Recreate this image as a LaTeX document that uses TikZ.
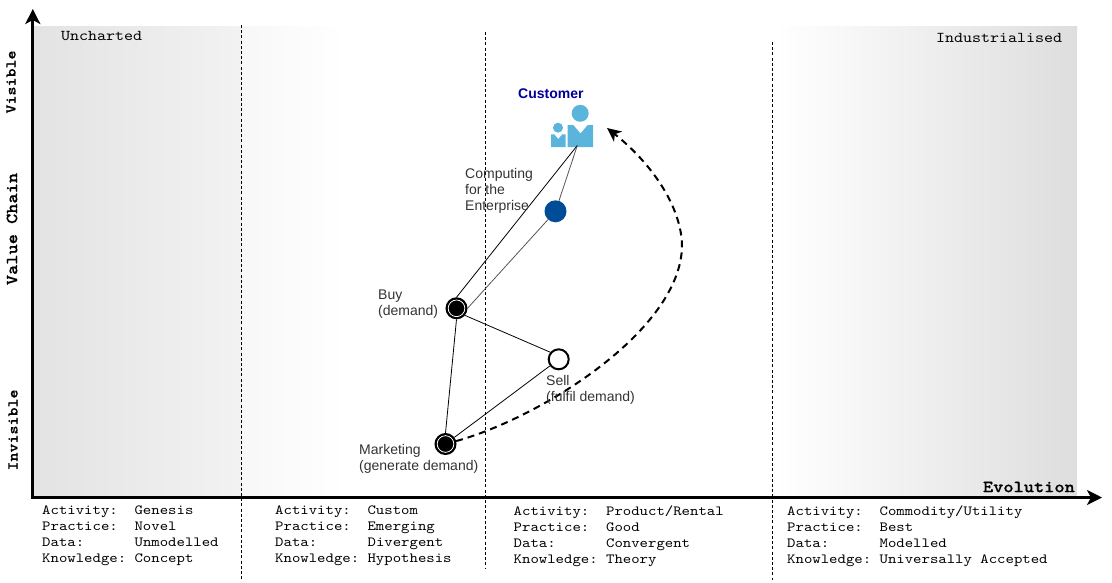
\documentclass[tikz,border=0pt]{standalone}
\usepackage{fontspec}
\setmainfont{Liberation Sans}
\newfontfamily\courreg{lmmono10-regular}[Extension=.otf,FakeStretch=1.143]
\newfontfamily\courbold{lmmonolt10-bold}[Extension=.otf,FakeStretch=1.143,FakeBold=0.5]
\usetikzlibrary{arrows.meta}
\definecolor{iconblue}{HTML}{5AB4DC}
\definecolor{nodeblue}{HTML}{004C97}
\definecolor{custblue}{HTML}{000099}
\definecolor{edgegrey}{HTML}{555555}
\definecolor{labelgrey}{HTML}{333333}
\tikzset{
  axisline/.style={line width=3pt,-{Stealth[length=15pt,width=15pt,inset=4pt]}},
  phase/.style={line width=0.7pt,dash pattern=on 3pt off 2.2pt,black},
  link/.style={line width=0.8pt,black},
  greylink/.style={line width=0.8pt,edgegrey},
  lab/.style={inner sep=0pt,anchor=west,align=left,text=labelgrey,font=\fontsize{14}{16}\selectfont},
  info/.style={inner sep=0pt,anchor=north west,align=left,font=\courreg\fontsize{14}{16}\selectfont},
  zone/.style={inner sep=0pt,font=\courreg\fontsize{15}{16}\selectfont},
  axlab/.style={inner sep=0pt,font=\courbold\fontsize{17}{18}\selectfont},
  sidelab/.style={inner sep=0pt,rotate=90,font=\courbold\fontsize{15}{16}\selectfont},
  dual/.style={circle,draw=black,line width=2pt,fill=black,minimum size=20pt,inner sep=0pt,
     path picture={\draw[white,line width=0.9pt] (path picture bounding box.center) circle (8.4pt);}},
  open/.style={circle,draw=black,line width=2pt,fill=white,minimum size=20pt,inner sep=0pt},
  solid blue/.style={circle,fill=nodeblue,minimum size=22pt,inner sep=0pt},
}
\begin{document}
\begin{tikzpicture}[x=1pt,y=-1pt]
\useasboundingbox (0,0) rectangle (1112,582);
% background bands
\shade[left color=black!11,right color=black!5] (33,26) rectangle (242,497);
\shade[left color=black!3,right color=white] (242,26) rectangle (345,497);
\shade[left color=white,right color=black!13] (775,26) rectangle (1077,497);
% phase separators
\coordinate (s1t) at (241.5,25); \coordinate (s1b) at (241.5,580);
\coordinate (s2t) at (485.5,32); \coordinate (s2b) at (485.5,568);
\coordinate (s3t) at (772,42); \coordinate (s3b) at (772,580);
\draw[phase] (s1t) -- (s1b);
\draw[phase] (s2t) -- (s2b);
\draw[phase] (s3t) -- (s3b);
% axes
\coordinate (oy) at (32.8,498); \coordinate (ytip) at (32.8,9);
\coordinate (ox) at (31,497.5); \coordinate (xtip) at (1102,497.5);
\draw[axisline] (oy) -- (ytip);
\draw[axisline] (ox) -- (xtip);
% zone and axis labels
\node[zone,anchor=west] (unch) at (61,36) {Uncharted};
\node[zone,anchor=west] (indu) at (936,38) {Industrialised};
\node[axlab,anchor=east] (evol) at (1075,487) {Evolution};
\node[axlab,rotate=90] (vchain) at (12,229) {Value Chain};
\node[sidelab] (vis) at (11,82) {Visible};
\node[sidelab] (invis) at (13,430) {Invisible};
% customer icon
\fill[iconblue] (580.2,113.3) circle (8.5);
\fill[iconblue] (567.7,125) -- (573.3,125) -- (580.5,133.5) -- (587.7,125) -- (593,125) -- (593,147) -- (567.7,147) -- cycle;
\fill[iconblue] (558,127.7) circle (5);
\fill[iconblue] (551,134.3) -- (554.3,134.3) -- (558.3,139) -- (562.3,134.3) -- (565.7,134.3) -- (565.7,147) -- (551,147) -- cycle;
\coordinate (cust) at (577.3,145.5);
\node[inner sep=0pt,anchor=west,text=custblue,font=\bfseries\fontsize{14}{16}\selectfont] (custlab) at (518,93.5) {Customer};
% components
\node[solid blue] (comp) at (555.5,211.3) {};
\node[dual] (buy) at (456.5,308.3) {};
\node[open] (sell) at (558.7,359.3) {};
\node[dual] (mkt) at (445.5,444) {};
% links
\draw[link] (cust) -- (buy.north);
\draw[greylink] (cust) -- (comp);
\draw[greylink] (comp) -- (buy.east);
\draw[link] (buy.-40) -- (sell.140);
\draw[link] (buy.south) -- (mkt.north);
\draw[link] (sell) -- (mkt);
% evolution curve
\coordinate (cv) at (682,245);
\coordinate (curvetip) at (607,128);
\draw[line width=2pt,dash pattern=on 7pt off 5pt,-{Stealth[length=14pt,width=13pt,inset=4pt]}]
  (mkt) .. controls (540,418) and (682,330) .. (cv) .. controls (681,205) and (650,162) .. (curvetip);
% labels
\node[lab] (l1) at (465,190.5) {Computing\\for the\\Enterprise};
\node[lab] (l2) at (378,304.5) {Buy\\(demand)};
\node[lab] (l3) at (546,389.5) {Sell\\(fulfil demand)};
\node[lab] (l4) at (359,458.5) {Marketing\\(generate demand)};
% phase tables
\node[info] (t1) at (42,505.5) {Activity:~~Genesis\\Practice:~~Novel\\Data:~~~~~~Unmodelled\\Knowledge:~Concept};
\node[info] (t2) at (275,505.5) {Activity:~~Custom\\Practice:~~Emerging\\Data:~~~~~~Divergent\\Knowledge:~Hypothesis};
\node[info] (t3) at (513.5,505.5) {Activity:~~Product/Rental\\Practice:~~Good\\Data:~~~~~~Convergent\\Knowledge:~Theory};
\node[info] (t4) at (787,505.5) {Activity:~~Commodity/Utility\\Practice:~~Best\\Data:~~~~~~Modelled\\Knowledge:~Universally Accepted};
\end{tikzpicture}
\end{document}
